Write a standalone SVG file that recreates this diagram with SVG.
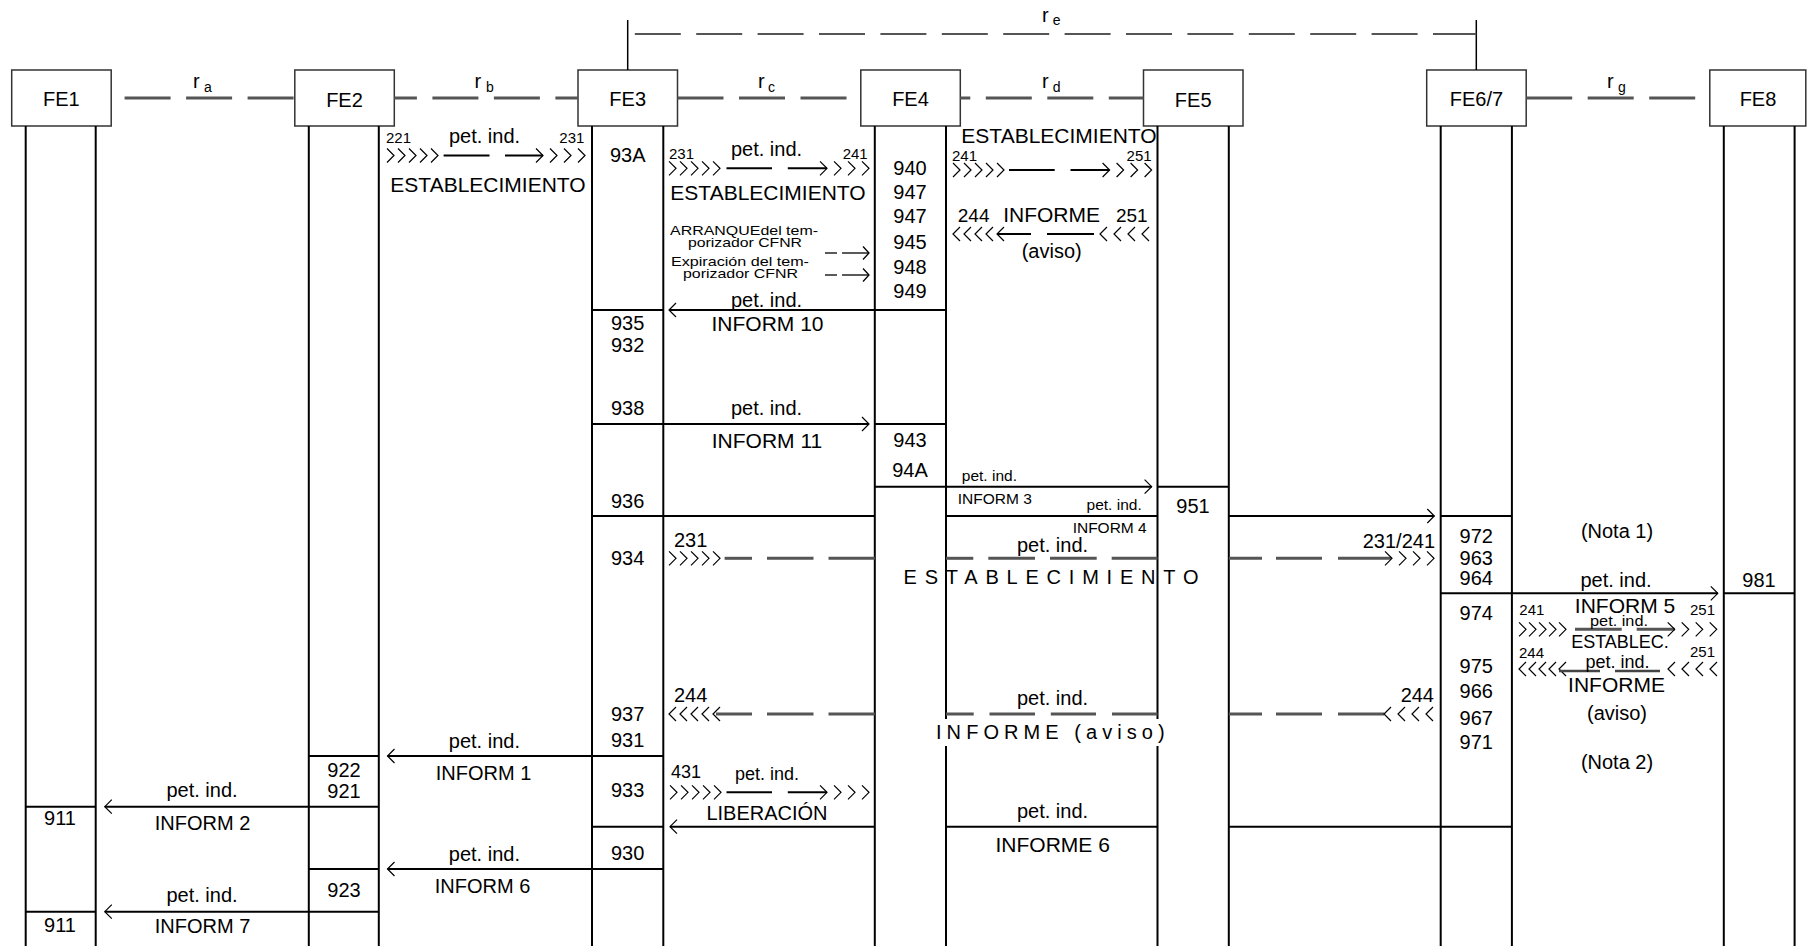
<svg xmlns="http://www.w3.org/2000/svg" xmlns:xlink="http://www.w3.org/1999/xlink" width="1807" height="946" viewBox="0 0 1807 946">
<style>
text{font-family:"Liberation Sans",Arial,sans-serif;font-size:20px;fill:#000}
.m{text-anchor:middle}
.e{text-anchor:end}
.s14{font-size:14px}
.s15{font-size:15px}
.s155{font-size:15.5px}
.s13{font-size:13px}
.s18{font-size:18px}
.s21{font-size:21px}
.box{fill:#fff;stroke:#333;stroke-width:1.5}
.ll{stroke:#000;stroke-width:2}
.h{stroke:#000;stroke-width:2}
.if{stroke:#555;stroke-width:3;stroke-dasharray:46 15.5}
.ie{stroke:#555;stroke-width:2;stroke-dasharray:46 15.4;stroke-dashoffset:54.3}
.d{stroke:#000;stroke-width:2}
.g{stroke:#555;stroke-width:3}
.t{stroke:#000;stroke-width:1.3;fill:none}
</style>
<defs>
<path id="cr" d="M0,-7 L7,0 L0,7" fill="none" stroke="#000" stroke-width="1.2"/>
<path id="cl" d="M7,-7 L0,0 L7,7" fill="none" stroke="#000" stroke-width="1.2"/>
</defs>
<rect x="0" y="0" width="1807" height="946" fill="#fff"/>

<g id="FE1">
<rect class="box" x="11.7" y="70" width="99.5" height="56"/>
<text class="m" x="61.4" y="106">FE1</text>
<line class="ll" x1="25.7" y1="126" x2="25.7" y2="946"/>
<line class="ll" x1="95.7" y1="126" x2="95.7" y2="946"/>
<line class="h" x1="25.7" y1="806.7" x2="95.7" y2="806.7"/>
<line class="h" x1="25.7" y1="911.7" x2="95.7" y2="911.7"/>
<text class="m" x="60" y="825">911</text>
<text class="m" x="60" y="932">911</text>
</g>

<g id="FE2">
<rect class="box" x="294.8" y="70" width="99.5" height="56"/>
<text class="m" x="344.5" y="107">FE2</text>
<line class="ll" x1="308.8" y1="126" x2="308.8" y2="946"/>
<line class="ll" x1="378.8" y1="126" x2="378.8" y2="946"/>
<line class="h" x1="308.8" y1="756" x2="378.8" y2="756"/>
<line class="h" x1="308.8" y1="806.7" x2="378.8" y2="806.7"/>
<line class="h" x1="308.8" y1="869" x2="378.8" y2="869"/>
<line class="h" x1="308.8" y1="911.7" x2="378.8" y2="911.7"/>
<text class="m" x="344" y="776.7">922</text>
<text class="m" x="344" y="798.3">921</text>
<text class="m" x="344" y="896.7">923</text>
</g>

<g id="FE3">
<rect class="box" x="578" y="70" width="99.5" height="56"/>
<text class="m" x="627.7" y="106">FE3</text>
<line class="ll" x1="592" y1="126" x2="592" y2="946"/>
<line class="ll" x1="663.3" y1="126" x2="663.3" y2="946"/>
<line class="h" x1="592" y1="310" x2="663.3" y2="310"/>
<line class="h" x1="592" y1="424" x2="663.3" y2="424"/>
<line class="h" x1="592" y1="516" x2="663.3" y2="516"/>
<line class="h" x1="592" y1="756" x2="663.3" y2="756"/>
<line class="h" x1="592" y1="826.7" x2="663.3" y2="826.7"/>
<line class="h" x1="592" y1="869" x2="663.3" y2="869"/>
<text class="m" x="627.7" y="161.7">93A</text>
<text class="m" x="627.7" y="330">935</text>
<text class="m" x="627.7" y="351.7">932</text>
<text class="m" x="627.7" y="415">938</text>
<text class="m" x="627.7" y="508.3">936</text>
<text class="m" x="627.7" y="565">934</text>
<text class="m" x="627.7" y="720.7">937</text>
<text class="m" x="627.7" y="746.7">931</text>
<text class="m" x="627.7" y="796.7">933</text>
<text class="m" x="627.7" y="860">930</text>
</g>

<g id="FE4">
<rect class="box" x="860.8" y="70" width="99.5" height="56"/>
<text class="m" x="910.5" y="106">FE4</text>
<line class="ll" x1="874.8" y1="126" x2="874.8" y2="946"/>
<line class="ll" x1="946" y1="126" x2="946" y2="946"/>
<line class="h" x1="874.8" y1="310" x2="946" y2="310"/>
<line class="h" x1="874.8" y1="424" x2="946" y2="424"/>
<line class="h" x1="874.8" y1="486.7" x2="946" y2="486.7"/>
<text class="m" x="910" y="175">940</text>
<text class="m" x="910" y="199.3">947</text>
<text class="m" x="910" y="222.7">947</text>
<text class="m" x="910" y="249.3">945</text>
<text class="m" x="910" y="274">948</text>
<text class="m" x="910" y="298.3">949</text>
<text class="m" x="910" y="446.7">943</text>
<text class="m" x="910" y="476.7">94A</text>
</g>

<g id="FE5">
<rect class="box" x="1143.5" y="70" width="99.5" height="56"/>
<text class="m" x="1193.2" y="107">FE5</text>
<line class="ll" x1="1157.5" y1="126" x2="1157.5" y2="946"/>
<line class="ll" x1="1228.8" y1="126" x2="1228.8" y2="946"/>
<line class="h" x1="1157.5" y1="486.7" x2="1228.8" y2="486.7"/>
<text class="m" x="1193" y="513.3">951</text>
</g>

<g id="FE67">
<rect class="box" x="1426.7" y="70" width="99.5" height="56"/>
<text class="m" x="1476.4" y="106">FE6/7</text>
<line class="ll" x1="1440.7" y1="126" x2="1440.7" y2="946"/>
<line class="ll" x1="1511.9" y1="126" x2="1511.9" y2="946"/>
<line class="h" x1="1440.7" y1="516" x2="1511.9" y2="516"/>
<line class="h" x1="1440.7" y1="593.3" x2="1511.9" y2="593.3"/>
<line class="h" x1="1440.7" y1="826.7" x2="1511.9" y2="826.7"/>
<text class="m" x="1476.3" y="542.7">972</text>
<text class="m" x="1476.3" y="565">963</text>
<text class="m" x="1476.3" y="585">964</text>
<text class="m" x="1476.3" y="620">974</text>
<text class="m" x="1476.3" y="673.3">975</text>
<text class="m" x="1476.3" y="698.3">966</text>
<text class="m" x="1476.3" y="725">967</text>
<text class="m" x="1476.3" y="749.3">971</text>
</g>

<g id="FE8">
<rect class="box" x="1709.8" y="70" width="96" height="56"/>
<text class="m" x="1758" y="106">FE8</text>
<line class="ll" x1="1723.8" y1="126" x2="1723.8" y2="946"/>
<line class="ll" x1="1794.6" y1="126" x2="1794.6" y2="946"/>
<line class="h" x1="1723.8" y1="593.3" x2="1794.6" y2="593.3"/>
<text class="m" x="1759" y="586.7">981</text>
</g>

<g id="interfaces">
<line class="if" x1="111.2" y1="98" x2="294.8" y2="98" stroke-dashoffset="48.1"/>
<line class="if" x1="394.3" y1="98" x2="578" y2="98" stroke-dashoffset="23.4"/>
<line class="if" x1="677.5" y1="98" x2="860.8" y2="98"/>
<line class="if" x1="960.3" y1="98" x2="1143.5" y2="98" stroke-dashoffset="36"/>
<line class="if" x1="1526.2" y1="98" x2="1709.8" y2="98"/>
<line x1="627.7" y1="20" x2="627.7" y2="70" stroke="#000" stroke-width="1.5"/>
<line x1="1476.3" y1="20" x2="1476.3" y2="70" stroke="#000" stroke-width="1.5"/>
<line class="ie" x1="627.7" y1="34" x2="1476.3" y2="34"/>
<text x="193" y="88">r</text><text class="s14" x="204" y="92">a</text>
<text x="474.5" y="88">r</text><text class="s14" x="486" y="92">b</text>
<text x="758" y="88">r</text><text class="s14" x="768" y="92">c</text>
<text x="1042" y="88">r</text><text class="s14" x="1052.7" y="92">d</text>
<text x="1042" y="22">r</text><text class="s14" x="1052.7" y="25">e</text>
<text x="1607" y="88">r</text><text class="s14" x="1618" y="92">g</text>
</g>

<g id="connectors">
<!-- FE2-FE3 ESTABLECIMIENTO -->
<use href="#cr" x="387" y="155.5"/><use href="#cr" x="398" y="155.5"/><use href="#cr" x="409" y="155.5"/><use href="#cr" x="420" y="155.5"/><use href="#cr" x="431" y="155.5"/>
<line class="d" x1="443.6" y1="155.5" x2="489.5" y2="155.5"/>
<line class="d" x1="505" y1="155.5" x2="543" y2="155.5"/>
<use href="#cr" x="536" y="155.5"/><use href="#cr" x="550" y="155.5"/><use href="#cr" x="564" y="155.5"/><use href="#cr" x="578" y="155.5"/>
<text class="s15" x="386" y="143">221</text>
<text class="m" x="484.5" y="142.7">pet. ind.</text>
<text class="e s15" x="584.4" y="143">231</text>
<text class="m s21" x="488" y="192">ESTABLECIMIENTO</text>

<!-- FE3-FE4 ESTABLECIMIENTO -->
<use href="#cr" x="669" y="168.3"/><use href="#cr" x="680" y="168.3"/><use href="#cr" x="691" y="168.3"/><use href="#cr" x="702" y="168.3"/><use href="#cr" x="713" y="168.3"/>
<line class="d" x1="726.5" y1="168.3" x2="772" y2="168.3"/>
<line class="d" x1="787.8" y1="168.3" x2="827" y2="168.3"/>
<use href="#cr" x="820" y="168.3"/><use href="#cr" x="834" y="168.3"/><use href="#cr" x="848" y="168.3"/><use href="#cr" x="862" y="168.3"/>
<text class="s15" x="669" y="158.5">231</text>
<text class="m" x="766.5" y="156">pet. ind.</text>
<text class="e s15" x="867.7" y="158.5">241</text>
<text class="m s21" x="768" y="200">ESTABLECIMIENTO</text>

<!-- timers -->
<text class="s13" x="670" y="234.5" textLength="148" lengthAdjust="spacingAndGlyphs">ARRANQUEdel tem-</text>
<text class="s13" x="688" y="246.5" textLength="114" lengthAdjust="spacingAndGlyphs">porizador CFNR</text>
<text class="s13" x="671" y="266" textLength="138" lengthAdjust="spacingAndGlyphs">Expiración del tem-</text>
<text class="s13" x="683" y="278" textLength="115" lengthAdjust="spacingAndGlyphs">porizador CFNR</text>
<line class="t" x1="825" y1="253" x2="837" y2="253"/>
<line class="t" x1="842" y1="253" x2="869" y2="253"/>
<path class="t" d="M863,246.5 L869,253 L863,259.5"/>
<line class="t" x1="825" y1="275" x2="837" y2="275"/>
<line class="t" x1="842" y1="275" x2="869" y2="275"/>
<path class="t" d="M863,268.5 L869,275 L863,281.5"/>

<!-- FE4-FE5 ESTABLECIMIENTO -->
<use href="#cr" x="953" y="170"/><use href="#cr" x="964" y="170"/><use href="#cr" x="975" y="170"/><use href="#cr" x="986" y="170"/><use href="#cr" x="997" y="170"/>
<line class="d" x1="1009" y1="170" x2="1054.7" y2="170"/>
<line class="d" x1="1070.5" y1="170" x2="1109.6" y2="170"/>
<use href="#cr" x="1102.6" y="170"/><use href="#cr" x="1116.6" y="170"/><use href="#cr" x="1130.6" y="170"/><use href="#cr" x="1144.6" y="170"/>
<text class="m s21" x="1059" y="142.5">ESTABLECIMIENTO</text>
<text class="s15" x="952" y="160.5">241</text>
<text class="e s15" x="1151.6" y="160.5">251</text>

<!-- FE5-FE4 INFORME -->
<use href="#cl" x="953" y="234"/><use href="#cl" x="964" y="234"/><use href="#cl" x="975" y="234"/><use href="#cl" x="986" y="234"/><use href="#cl" x="997" y="234"/>
<line class="d" x1="997" y1="234" x2="1031" y2="234"/>
<line class="d" x1="1047" y1="234" x2="1094" y2="234"/>
<use href="#cl" x="1100" y="234"/><use href="#cl" x="1114" y="234"/><use href="#cl" x="1128" y="234"/><use href="#cl" x="1142" y="234"/>
<text x="957.8" y="221.7" style="font-size:19px">244</text>
<text class="m s21" x="1051.6" y="221.7">INFORME</text>
<text class="e" x="1147.6" y="221.7" style="font-size:19px">251</text>
<text class="m" x="1051.7" y="258.3">(aviso)</text>

<!-- INFORM 10 -->
<line class="h" x1="669" y1="310" x2="874.8" y2="310"/>
<use href="#cl" x="669" y="310"/>
<text class="m" x="766.5" y="306.7">pet. ind.</text>
<text class="m s21" x="767.5" y="331">INFORM 10</text>

<!-- INFORM 11 -->
<line class="h" x1="663.3" y1="424" x2="869" y2="424"/>
<use href="#cr" x="862" y="424"/>
<text class="m" x="766.5" y="415">pet. ind.</text>
<text class="m s21" x="767" y="448.3">INFORM 11</text>

<!-- INFORM 3 -->
<line class="h" x1="946" y1="486.7" x2="1151.6" y2="486.7"/>
<use href="#cr" x="1144.6" y="486.7"/>
<text class="s155" x="961.8" y="480.7">pet. ind.</text>
<text class="s155" x="957.8" y="504">INFORM 3</text>

<!-- INFORM 4 -->
<line class="h" x1="663.3" y1="516" x2="874.8" y2="516"/>
<line class="h" x1="946" y1="516" x2="1157.5" y2="516"/>
<line class="h" x1="1228.8" y1="516" x2="1434.3" y2="516"/>
<use href="#cr" x="1427.3" y="516"/>
<text class="e s155" x="1141.7" y="510">pet. ind.</text>
<text class="e s155" x="1146.7" y="532.7">INFORM 4</text>

<!-- ESTABLECIMIENTO FE3 -> FE6/7 -->
<use href="#cr" x="669" y="558.3"/><use href="#cr" x="680" y="558.3"/><use href="#cr" x="691" y="558.3"/><use href="#cr" x="702" y="558.3"/><use href="#cr" x="713" y="558.3"/>
<line class="g" x1="724.6" y1="558.3" x2="752" y2="558.3"/>
<line class="g" x1="767" y1="558.3" x2="813.5" y2="558.3"/>
<line class="g" x1="828.5" y1="558.3" x2="874.8" y2="558.3"/>
<line class="g" x1="946" y1="558.3" x2="973.3" y2="558.3"/>
<line class="g" x1="988.3" y1="558.3" x2="1035" y2="558.3"/>
<line class="g" x1="1050" y1="558.3" x2="1096.7" y2="558.3"/>
<line class="g" x1="1111.7" y1="558.3" x2="1157.5" y2="558.3"/>
<line class="g" x1="1228.8" y1="558.3" x2="1262" y2="558.3"/>
<line class="g" x1="1276" y1="558.3" x2="1322" y2="558.3"/>
<line class="g" x1="1338" y1="558.3" x2="1391" y2="558.3"/>
<use href="#cr" x="1385" y="558.3"/><use href="#cr" x="1399" y="558.3"/><use href="#cr" x="1413" y="558.3"/><use href="#cr" x="1427" y="558.3"/>
<text x="674" y="546.7">231</text>
<text class="e" x="1435" y="547.7">231/241</text>
<text class="m" x="1052.5" y="551.7">pet. ind.</text>
<text x="903.5" y="584" textLength="295" lengthAdjust="spacing">ESTABLECIMIENTO</text>

<!-- INFORME (aviso) FE6/7 -> FE3 -->
<use href="#cl" x="669" y="714"/><use href="#cl" x="680" y="714"/><use href="#cl" x="691" y="714"/><use href="#cl" x="702" y="714"/><use href="#cl" x="713" y="714"/>
<line class="g" x1="716" y1="714" x2="752" y2="714"/>
<line class="g" x1="767" y1="714" x2="813.5" y2="714"/>
<line class="g" x1="828.5" y1="714" x2="874.8" y2="714"/>
<line class="g" x1="946" y1="714" x2="973.7" y2="714"/>
<line class="g" x1="989.5" y1="714" x2="1035" y2="714"/>
<line class="g" x1="1050.8" y1="714" x2="1096" y2="714"/>
<line class="g" x1="1112" y1="714" x2="1157.5" y2="714"/>
<line class="g" x1="1228.8" y1="714" x2="1262" y2="714"/>
<line class="g" x1="1276" y1="714" x2="1322" y2="714"/>
<line class="g" x1="1338" y1="714" x2="1384" y2="714"/>
<use href="#cl" x="1384" y="714"/><use href="#cl" x="1398" y="714"/><use href="#cl" x="1412" y="714"/><use href="#cl" x="1426" y="714"/>
<text x="674" y="701.7">244</text>
<text class="e" x="1434" y="701.7">244</text>
<text class="m" x="1052.5" y="705">pet. ind.</text>
<rect x="934" y="719" width="232" height="27" fill="#fff"/>
<text x="936" y="739.3" textLength="228.7" lengthAdjust="spacing">INFORME (aviso)</text>

<!-- INFORM 1 -->
<line class="h" x1="387.5" y1="756" x2="592" y2="756"/>
<use href="#cl" x="387.5" y="756"/>
<text class="m" x="484.4" y="748.3">pet. ind.</text>
<text class="m" x="483.5" y="780">INFORM 1</text>

<!-- INFORM 2 -->
<line class="h" x1="104.8" y1="806.7" x2="308.8" y2="806.7"/>
<use href="#cl" x="104.8" y="806.7"/>
<text class="m" x="202" y="796.7">pet. ind.</text>
<text class="m" x="202.5" y="830">INFORM 2</text>

<!-- LIBERACION -->
<use href="#cr" x="670" y="792.3"/><use href="#cr" x="681" y="792.3"/><use href="#cr" x="692" y="792.3"/><use href="#cr" x="703" y="792.3"/><use href="#cr" x="714" y="792.3"/>
<line class="d" x1="726.5" y1="792.3" x2="772" y2="792.3"/>
<line class="d" x1="787.8" y1="792.3" x2="827" y2="792.3"/>
<use href="#cr" x="820" y="792.3"/><use href="#cr" x="834" y="792.3"/><use href="#cr" x="848" y="792.3"/><use href="#cr" x="862" y="792.3"/>
<text class="s18" x="671" y="778.3">431</text>
<text class="m s18" x="767" y="780">pet. ind.</text>
<text class="m" x="767" y="820">LIBERACIÓN</text>
<line class="h" x1="670" y1="826.7" x2="874.8" y2="826.7"/>
<use href="#cl" x="670" y="826.7"/>

<!-- INFORME 6 -->
<line class="h" x1="946" y1="826.7" x2="1157.5" y2="826.7"/>
<line class="h" x1="1228.8" y1="826.7" x2="1440.7" y2="826.7"/>
<text class="m" x="1052.5" y="818.3">pet. ind.</text>
<text class="m s21" x="1052.7" y="851.7">INFORME 6</text>

<!-- INFORM 6 -->
<line class="h" x1="387.5" y1="869" x2="592" y2="869"/>
<use href="#cl" x="387.5" y="869"/>
<text class="m" x="484.4" y="860.7">pet. ind.</text>
<text class="m" x="482.5" y="893.3">INFORM 6</text>

<!-- INFORM 7 -->
<line class="h" x1="104.8" y1="911.7" x2="308.8" y2="911.7"/>
<use href="#cl" x="104.8" y="911.7"/>
<text class="m" x="202" y="901.7">pet. ind.</text>
<text class="m" x="202.5" y="933">INFORM 7</text>

<!-- INFORM 5 -->
<line class="h" x1="1511.9" y1="593.3" x2="1717.8" y2="593.3"/>
<use href="#cr" x="1710.8" y="593.3"/>
<text class="m" x="1617" y="538.3">(Nota 1)</text>
<text class="m" x="1616" y="586.7">pet. ind.</text>
<text class="m s21" x="1625" y="612.5">INFORM 5</text>

<!-- FE6/7 - FE8 ESTABLEC. -->
<use href="#cr" x="1519" y="629.3"/><use href="#cr" x="1529" y="629.3"/><use href="#cr" x="1539" y="629.3"/><use href="#cr" x="1549" y="629.3"/><use href="#cr" x="1559" y="629.3"/>
<line class="g" x1="1575" y1="629.3" x2="1621.7" y2="629.3"/>
<line class="g" x1="1636.7" y1="629.3" x2="1674.7" y2="629.3"/>
<use href="#cr" x="1667.7" y="629.3"/><use href="#cr" x="1681.7" y="629.3"/><use href="#cr" x="1695.7" y="629.3"/><use href="#cr" x="1709.7" y="629.3"/>
<text class="s15" x="1519.3" y="615">241</text>
<text class="e s15" x="1715" y="615">251</text>
<text class="m s14" x="1619" y="626" textLength="58" lengthAdjust="spacingAndGlyphs">pet. ind.</text>
<text class="m s18" x="1620" y="648.3">ESTABLEC.</text>

<!-- FE8 - FE6/7 INFORME -->
<use href="#cl" x="1519" y="669"/><use href="#cl" x="1529" y="669"/><use href="#cl" x="1539" y="669"/><use href="#cl" x="1549" y="669"/><use href="#cl" x="1559" y="669"/>
<line x1="1559" y1="671" x2="1600" y2="671" stroke="#444" stroke-width="2.5"/>
<line x1="1615" y1="671" x2="1660" y2="671" stroke="#444" stroke-width="2.5"/>
<use href="#cl" x="1668" y="669"/><use href="#cl" x="1682" y="669"/><use href="#cl" x="1696" y="669"/><use href="#cl" x="1710" y="669"/>
<text class="s15" x="1519" y="658.3">244</text>
<text class="e s15" x="1715" y="656.7">251</text>
<text class="m s18" x="1617.5" y="668.3">pet. ind.</text>
<text class="m s21" x="1616.5" y="691.7">INFORME</text>
<text class="m" x="1617" y="720">(aviso)</text>
<text class="m" x="1617" y="769.3">(Nota 2)</text>
</g>
</svg>
